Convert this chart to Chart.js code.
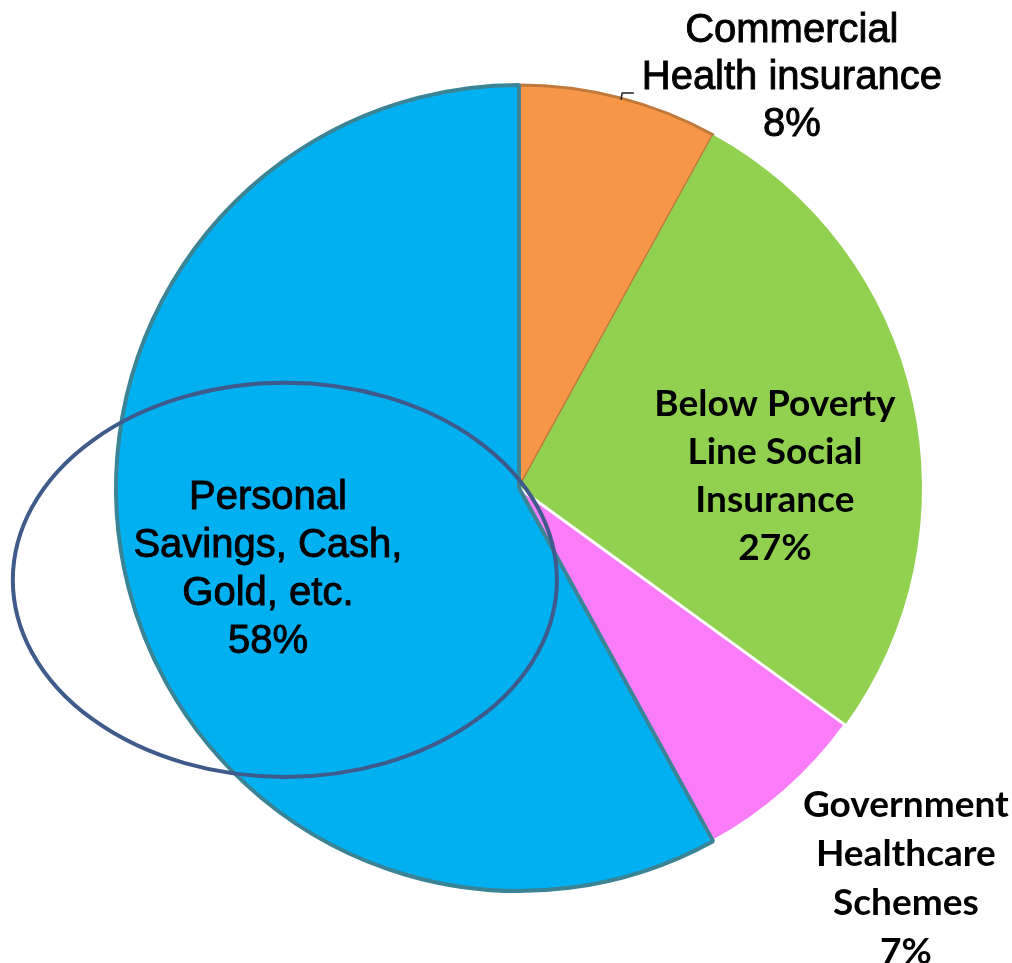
<!DOCTYPE html>
<html>
<head>
<meta charset="utf-8">
<script src="https://cdn.jsdelivr.net/npm/chart.js@4.4.1/dist/chart.umd.min.js"></script>
<style>
html,body{margin:0;padding:0;background:#fff;}
#wrap{width:1012px;height:963px;position:relative;}
</style>
</head>
<body>
<div id="wrap"><canvas id="c" width="1012" height="963"></canvas></div>
<script>
const categories = ["Commercial Health insurance", "Below Poverty Line Social Insurance", "Government Healthcare Schemes", "Personal Savings, Cash, Gold, etc."];
const shares = [8, 27, 7, 58];
const labelLines = [
  ["Commercial", "Health insurance", "8%"],
  ["Below Poverty", "Line Social", "Insurance", "27%"],
  ["Government", "Healthcare", "Schemes", "7%"],
  ["Personal", "Savings, Cash,", "Gold, etc.", "58%"]
];
const sliceColors = ["#f79646", "#92d050", "#fa7cf8", "#00b0f0"];
const sliceBorders = ["#c0793a", "#92d050", "#ffffff", "#3a8496"];
const sliceBorderWidths = [3, 0, 3, 4];

// label placement relative to pie centre, in units of radius
const labelStyle = [
  {dx: 0.677, dy: -1.017, font: "40px 'Liberation Sans', Arial, sans-serif", lh: 47, stroke: 0.9},
  {dx: 0.635, dy: -0.030, font: "bold 37px Lato, 'Open Sans', sans-serif", lh: 48, stroke: 0},
  {dx: 0.960, dy: 0.968, font: "bold 37px Lato, 'Open Sans', sans-serif", lh: 49, stroke: 0},
  {dx: -0.623, dy: 0.203, font: "40px 'Liberation Sans', Arial, sans-serif", lh: 48, stroke: 0.9}
];

const overlayPlugin = {
  id: 'overlay',
  afterDatasetsDraw(chart) {
    const arc = chart.getDatasetMeta(0).data[0];
    const cx = arc.x, cy = arc.y, r = arc.outerRadius;
    const ctx = chart.ctx;
    ctx.save();
    // ellipse highlight
    ctx.beginPath();
    ctx.ellipse(cx - 0.581 * r, cy + 0.228 * r, 0.675 * r, 0.489 * r, 0, 0, Math.PI * 2);
    ctx.strokeStyle = "#3e5b8c";
    ctx.lineWidth = 4;
    ctx.stroke();
    // leader line for commercial label
    ctx.beginPath();
    ctx.moveTo(cx + 0.253 * r, cy - 0.963 * r);
    ctx.lineTo(cx + 0.256 * r, cy - 0.980 * r);
    ctx.lineTo(cx + 0.285 * r, cy - 0.980 * r);
    ctx.strokeStyle = "#222";
    ctx.lineWidth = 1.5;
    ctx.stroke();
    // labels
    ctx.fillStyle = "#000";
    ctx.strokeStyle = "#000";
    ctx.textAlign = "center";
    ctx.textBaseline = "middle";
    labelLines.forEach((lines, i) => {
      const s = labelStyle[i];
      ctx.font = s.font;
      ctx.lineWidth = s.stroke;
      const x = cx + s.dx * r;
      const y0 = cy + s.dy * r - (lines.length - 1) * s.lh / 2;
      lines.forEach((t, j) => {
        ctx.fillText(t, x, y0 + j * s.lh);
        if (s.stroke > 0) ctx.strokeText(t, x, y0 + j * s.lh);
      });
    });
    ctx.restore();
  }
};

new Chart(document.getElementById('c'), {
  type: 'pie',
  data: {
    labels: categories,
    datasets: [{
      data: shares,
      backgroundColor: sliceColors,
      borderColor: sliceBorders,
      borderWidth: sliceBorderWidths
    }]
  },
  options: {
    responsive: false,
    animation: false,
    rotation: 0,
    layout: {padding: {left: 114, right: 88, top: 83, bottom: 70}},
    plugins: {legend: {display: false}, tooltip: {enabled: false}}
  },
  plugins: [overlayPlugin]
});
</script>
</body>
</html>
